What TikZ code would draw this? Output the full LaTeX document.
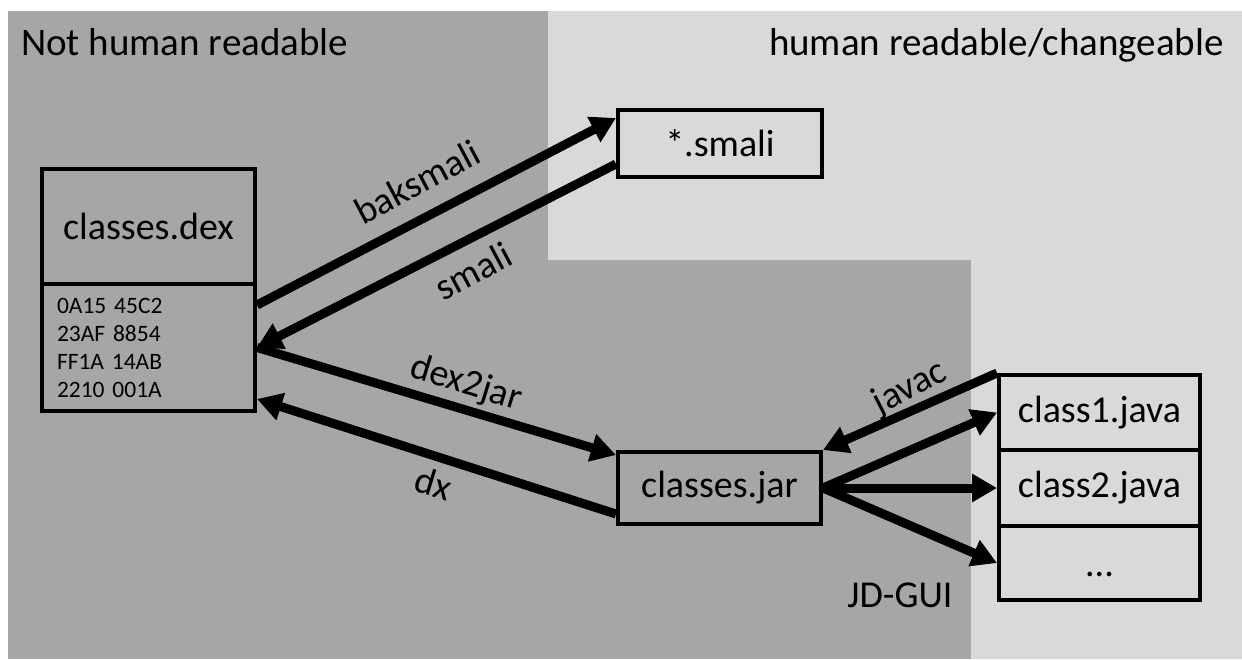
\documentclass[tikz,border=0pt]{standalone}
\usepackage{fontspec}
\setmainfont{Carlito}
\usetikzlibrary{arrows.meta,calc}
\definecolor{darkzone}{HTML}{A6A6A6}
\definecolor{lightzone}{HTML}{D9D9D9}
\begin{document}
\begin{tikzpicture}[x=1pt,y=-1pt,
  box/.style={draw=black, line width=4pt, inner sep=0pt,
    font=\fontsize{38}{46}\selectfont},
  flow/.style={line width=9pt, -{Triangle[length=25pt,width=27pt]}},
  lbl/.style={font=\fontsize{38}{46}\selectfont, inner sep=0pt},
  caption/.style={font=\fontsize{39}{47}\selectfont, inner sep=0pt},
  hexdump/.style={font=\fontsize{23.5}{28}\selectfont, align=left}
]
% canvas and the two zones
\fill[white] (0,0) rectangle (1242,659);
\useasboundingbox (0,0) rectangle (1242,659);
\fill[darkzone] (8,11) rectangle (1242,659);
\fill[lightzone] (548,11) -- (1242,11) -- (1242,659) -- (971,659)
  -- (971,260) -- (548,260) -- cycle;

% zone captions
\node[caption, anchor=base west] (cnot) at (21,55) {Not human readable};
\node[caption, anchor=base east] (chum) at (1224,55) {human readable/changeable};

% dex file: name and raw bytes
\node[box, minimum width=213pt, minimum height=115pt] (dex) at (148.5,226.5) {classes.dex};
\node[box, hexdump, minimum width=213pt, minimum height=127pt, text width=183pt]
  (hex) at (148.5,347.5) {0A15 45C2\\23AF 8854\\FF1A 14AB\\2210 001A};

% smali sources and jar
\node[box, minimum width=204pt, minimum height=67pt] (smali) at (720,143.5) {*.smali};
\node[box, minimum width=203pt, minimum height=72pt] (jar) at (719.5,488) {classes.jar};

% java sources
\node[box, minimum width=201pt, minimum height=75pt] (j1) at (1099.5,412.5) {class1.java};
\node[box, minimum width=201pt, minimum height=76pt] (j2) at (1099.5,488) {class2.java};
\node[box, minimum width=201pt, minimum height=74pt] (j3) at (1099.5,563) {\vphantom{l}...};

% tools
\draw[flow] ([yshift=-23pt]hex.north east) -- ([yshift=-10pt]smali.north west);
\draw[flow] ([yshift=15pt]smali.south west) -- (hex.east);
\draw[flow] (hex.east) -- ([yshift=-5pt]jar.north west);
\draw[flow] ([yshift=12pt]jar.south west) -- ([yshift=14pt]hex.south east);
\draw[flow] (j1.north west) -- (jar.north east);
\draw[flow] (jar.east) -- (j1.west);
\draw[flow] (jar.east) -- (j2.west);
\draw[flow] (jar.east) -- (j3.west);

\node[lbl, rotate=28] (tbak) at (417,182) {baksmali};
\node[lbl, rotate=28] (tsma) at (473,271) {smali};
\node[lbl, rotate=-17] (td2j) at (466,384) {dex2jar};
\node[lbl, rotate=-17] (tdx) at (434,483) {dx};
\node[lbl, rotate=27] (tjav) at (910,388) {javac};
\node[lbl] (tjd) at (900,595) {JD-GUI};
\end{tikzpicture}
\end{document}
